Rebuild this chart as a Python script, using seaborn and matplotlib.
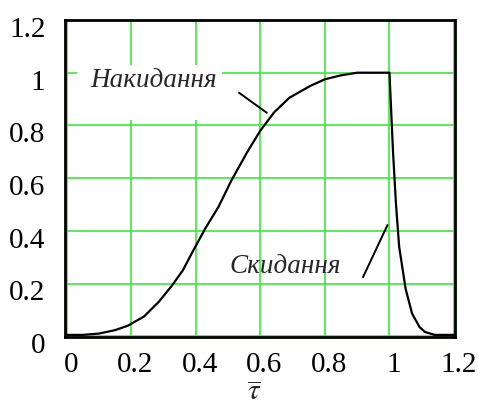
import matplotlib
matplotlib.use("Agg")
import matplotlib.pyplot as plt
import matplotlib.transforms as mtransforms
from matplotlib.patches import Rectangle
import seaborn as sns
import pandas as pd

# ---- data ----
tau = [0.0, 0.05, 0.10, 0.15, 0.19, 0.24, 0.285, 0.325, 0.36, 0.39, 0.43, 0.47,
       0.51, 0.56, 0.60, 0.643, 0.69, 0.755, 0.80, 0.85, 0.90, 1.0,
       1.011, 1.02, 1.03, 1.05, 1.07, 1.093, 1.11, 1.14, 1.2]
h = [0.005, 0.005, 0.01, 0.023, 0.04, 0.075, 0.13, 0.19, 0.25, 0.32, 0.41, 0.49,
     0.59, 0.70, 0.78, 0.85, 0.905, 0.95, 0.975, 0.99, 1.0, 1.0,
     0.70, 0.505, 0.34, 0.18, 0.086, 0.035, 0.016, 0.005, 0.005]

x_ticks = [0, 0.2, 0.4, 0.6, 0.8, 1.0, 1.2]
x_ticklabels = ["0", "0.2", "0.4", "0.6", "0.8", "1", "1.2"]
y_ticks = [0, 0.2, 0.4, 0.6, 0.8, 1.0, 1.2]
y_ticklabels = ["0", "0.2", "0.4", "0.6", "0.8", "1", "1.2"]

label_rise = "Накидання"
label_rise_pos = (0.27, 0.97)
ptr_rise_x = [0.534, 0.62]
ptr_rise_y = [0.924, 0.848]

label_fall = "Скидання"
label_fall_pos = (0.678, 0.266)
ptr_fall_x = [0.918, 0.994]
ptr_fall_y = [0.224, 0.422]

x_label = r"$\overline{\tau}$"

# ---- style ----
sns.set_style("white")
plt.rcParams["font.family"] = ["Liberation Serif", "DejaVu Serif"]
plt.rcParams["mathtext.fontset"] = "stix"

fig = plt.figure(figsize=(4.78, 4.05), dpi=100)
ax = fig.add_axes([65 / 478, 1 - 337 / 405, 390 / 478, 317 / 405])

df = pd.DataFrame({"tau": tau, "h": h})
sns.lineplot(data=df, x="tau", y="h", ax=ax, color="black", linewidth=1.6,
             estimator=None, sort=False, zorder=4)

ax.set_xlim(0 - 0.005, 1.2 + 0.003)
ax.set_ylim(0 - 0.003, 1.2)
ax.set_xticks(x_ticks)
ax.set_xticklabels(x_ticklabels)
ax.set_yticks(y_ticks)
ax.set_yticklabels(y_ticklabels)
ax.tick_params(axis="both", length=0, labelsize=21, colors="black")
ax.tick_params(axis="x", pad=11)
ax.tick_params(axis="y", pad=14)
for lab in ax.get_yticklabels():
    lab.set_transform(lab.get_transform() +
                      mtransforms.ScaledTranslation(0, -5 / 72, fig.dpi_scale_trans))
for lab in ax.get_xticklabels():
    lab.set_transform(lab.get_transform() +
                      mtransforms.ScaledTranslation(3 / 72, 0, fig.dpi_scale_trans))

ax.grid(True, color="#3de83d", linewidth=1.2)
ax.set_axisbelow(True)
for sp in ax.spines.values():
    sp.set_color("black")
    sp.set_linewidth(2.0)

ax.set_xlabel(x_label, fontsize=21)
ax.xaxis.set_label_coords(0.485, -0.2)
ax.xaxis.label.set_va("baseline")
ax.set_ylabel("")

# white background region behind the rise label (covers grid)
ax.add_patch(Rectangle((77 / 478, 1 - 120 / 405), 145 / 478, 55 / 405,
                       transform=fig.transFigure, facecolor="white",
                       edgecolor="none", zorder=2))

ax.text(*label_rise_pos, label_rise, fontsize=19.5, style="italic",
        ha="center", va="center", zorder=5)
ax.plot(ptr_rise_x, ptr_rise_y, color="black", linewidth=1.4, zorder=5)

ax.text(*label_fall_pos, label_fall, fontsize=19.5, style="italic",
        ha="center", va="center", zorder=5)
ax.plot(ptr_fall_x, ptr_fall_y, color="black", linewidth=1.4, zorder=5)

fig.savefig("out.png", dpi=100)
